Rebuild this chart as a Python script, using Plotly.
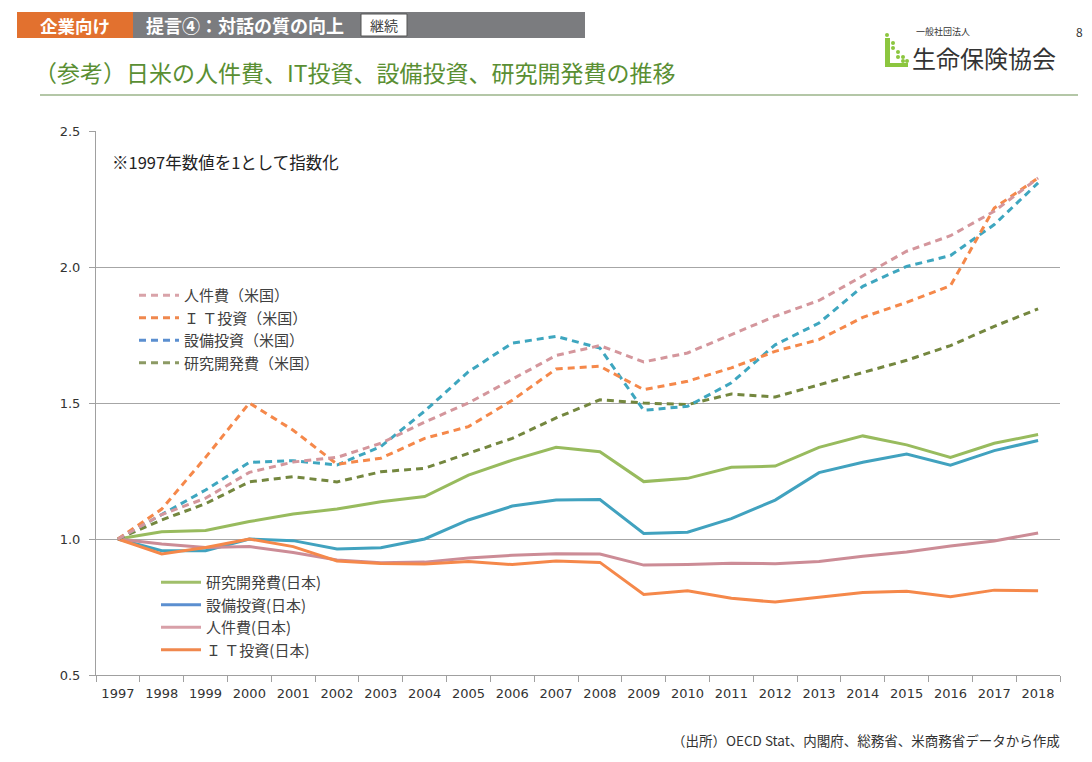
import plotly.graph_objects as go

# Years (category axis)
years = [str(y) for y in range(1997, 2019)]

# US series (index, 1997 = 1)
us_labor = [1.00, 1.09, 1.15, 1.245, 1.283, 1.30, 1.352, 1.43, 1.50, 1.586, 1.675, 1.711,
            1.651, 1.684, 1.751, 1.819, 1.877, 1.966, 2.058, 2.115, 2.205, 2.327]
us_it = [1.00, 1.11, 1.30, 1.50, 1.40, 1.275, 1.297, 1.37, 1.413, 1.51, 1.625, 1.635,
         1.549, 1.580, 1.629, 1.690, 1.733, 1.815, 1.870, 1.931, 2.217, 2.327]
us_capex = [1.00, 1.09, 1.18, 1.282, 1.288, 1.272, 1.34, 1.47, 1.615, 1.72, 1.745, 1.702,
            1.473, 1.488, 1.574, 1.714, 1.794, 1.929, 2.002, 2.042, 2.156, 2.309]
us_rd = [1.00, 1.07, 1.13, 1.21, 1.229, 1.21, 1.247, 1.26, 1.315, 1.37, 1.445, 1.512,
         1.50, 1.494, 1.533, 1.522, 1.567, 1.613, 1.657, 1.711, 1.782, 1.846]

# Japan series
jp_rd = [1.00, 1.027, 1.031, 1.064, 1.092, 1.11, 1.137, 1.156, 1.235, 1.29, 1.337, 1.321,
         1.211, 1.223, 1.264, 1.268, 1.337, 1.379, 1.346, 1.30, 1.352, 1.384]
jp_capex = [1.00, 0.957, 0.957, 1.00, 0.994, 0.963, 0.968, 1.00, 1.07, 1.121, 1.143, 1.145,
            1.02, 1.025, 1.075, 1.143, 1.244, 1.282, 1.312, 1.271, 1.325, 1.362]
jp_labor = [1.00, 0.982, 0.969, 0.972, 0.95, 0.923, 0.913, 0.915, 0.93, 0.94, 0.946, 0.945,
            0.904, 0.906, 0.911, 0.909, 0.917, 0.937, 0.952, 0.974, 0.993, 1.022]
jp_it = [1.00, 0.945, 0.969, 1.00, 0.972, 0.919, 0.91, 0.908, 0.917, 0.906, 0.919, 0.914,
         0.796, 0.81, 0.782, 0.768, 0.786, 0.803, 0.808, 0.788, 0.812, 0.81]

# name, values, line colour, legend swatch colour
us_series = [
    ("人件費（米国）", us_labor, "#d4969c", "#d9a3a9"),
    ("Ｉ Ｔ投資（米国）", us_it, "#f5884a", "#f0884e"),
    ("設備投資（米国）", us_capex, "#3ea6bf", "#5b8fd0"),
    ("研究開発費（米国）", us_rd, "#74873f", "#8c9a64"),
]
jp_series = [
    ("研究開発費(日本)", jp_rd, "#98bb5e", "#a0bf6a"),
    ("設備投資(日本)", jp_capex, "#41a2bf", "#5b8fd0"),
    ("人件費(日本)", jp_labor, "#cc8c96", "#d8a0a8"),
    ("Ｉ Ｔ投資(日本)", jp_it, "#f5884a", "#f0884e"),
]

FONT = "Noto Sans CJK JP"
NUMFONT = "DejaVu Sans, Noto Sans CJK JP"
OFF = 8  # page body margin
W, H = 1092 - OFF, 762 - OFF
L, R, T, B = 96 - OFF, 1060 - OFF, 131 - OFF, 675 - OFF


def px(x):
    # screen pixel -> paper
    return (x - OFF - L) / (R - L)


def py(y):
    return (B - (y - OFF)) / (B - T)


fig = go.Figure()

# Japan solid lines first, US dashed on top
for name, vals, col, _ in jp_series:
    fig.add_trace(go.Scatter(x=years, y=vals, mode="lines", name=name, showlegend=False,
                             line=dict(color=col, width=3)))
for name, vals, col, _ in reversed(us_series):
    fig.add_trace(go.Scatter(x=years, y=vals, mode="lines", name=name, showlegend=False,
                             line=dict(color=col, width=3, dash="7px,5px")))

# legend entries (swatch colours differ slightly from the lines)
for name, _, _, lcol in us_series:
    fig.add_trace(go.Scatter(x=[None], y=[None], mode="lines", name=name, legend="legend",
                             line=dict(color=lcol, width=3, dash="7px,5px")))
for name, _, _, lcol in jp_series:
    fig.add_trace(go.Scatter(x=[None], y=[None], mode="lines", name=name, legend="legend2",
                             line=dict(color=lcol, width=3)))

shapes = [
    # header bars
    dict(type="rect", xref="paper", yref="paper", x0=px(17), x1=px(133), y0=py(38), y1=py(12),
         fillcolor="#e2712f", line=dict(width=0), layer="above"),
    dict(type="rect", xref="paper", yref="paper", x0=px(133), x1=px(585), y0=py(38), y1=py(12),
         fillcolor="#7b7c7f", line=dict(width=0), layer="above"),
    dict(type="rect", xref="paper", yref="paper", x0=px(361), x1=px(407), y0=py(36), y1=py(14),
         fillcolor="white", line=dict(color="#555", width=1), layer="above"),
    # title underline
    dict(type="line", xref="paper", yref="paper", x0=px(40), x1=px(1078), y0=py(95), y1=py(95),
         line=dict(color="#9bb58a", width=1.5)),
    # logo icon
    dict(type="rect", xref="paper", yref="paper", x0=px(885), x1=px(890), y0=py(67), y1=py(38),
         fillcolor="#8cc63f", line=dict(width=0)),
    dict(type="rect", xref="paper", yref="paper", x0=px(885), x1=px(908), y0=py(67), y1=py(63),
         fillcolor="#8cc63f", line=dict(width=0)),
]
for cx, cy in [(887, 35), (893, 43), (893, 48), (898, 52), (898, 57), (903, 57), (903, 61), (907, 61)]:
    shapes.append(dict(type="circle", xref="paper", yref="paper",
                       x0=px(cx - 2), x1=px(cx + 2), y0=py(cy + 2), y1=py(cy - 2),
                       fillcolor="#8cc63f", line=dict(width=0)))

annotations = [
    dict(text="<b>企業向け</b>", x=px(75), y=py(25), font=dict(size=17.5, color="white")),
    dict(text="<b>提言④：対話の質の向上</b>", x=px(144), y=py(25), xanchor="left",
         font=dict(size=18, color="white")),
    dict(text="継続", x=px(384), y=py(25), font=dict(size=14, color="#444")),
    dict(text="（参考）日米の人件費、IT投資、設備投資、研究開発費の推移", x=px(32), y=py(72),
         xanchor="left", font=dict(size=23, color="#5a8f33")),
    dict(text="一般社団法人", x=px(914), y=py(31), xanchor="left", font=dict(size=9, color="#333")),
    dict(text="生命保険協会", x=px(910), y=py(57), xanchor="left", font=dict(size=24, color="#333")),
    dict(text="8", x=px(1079), y=py(31), font=dict(size=12, color="#333")),
    dict(text="※1997年数値を1として指数化", x=px(110), y=py(162), xanchor="left",
         font=dict(size=16.5, color="#222")),
    dict(text="（出所）OECD Stat、内閣府、総務省、米商務省データから作成", x=px(1062), y=py(740),
         xanchor="right", font=dict(size=13.5, color="#333")),
]
for a in annotations:
    a.update(xref="paper", yref="paper", showarrow=False, yanchor="middle")
    a.setdefault("xanchor", "center")

fig.update_layout(
    width=W, height=H,
    margin=dict(l=L, r=W - R, t=T, b=H - B),
    paper_bgcolor="white", plot_bgcolor="white",
    font=dict(family=FONT, size=13, color="#333"),
    shapes=shapes, annotations=annotations,
    legend=dict(x=px(134), y=py(279), xanchor="left", yanchor="top", bgcolor="rgba(0,0,0,0)",
                font=dict(size=15, color="#404040"), tracegroupgap=0, itemwidth=40),
    legend2=dict(x=px(156), y=py(566), xanchor="left", yanchor="top", bgcolor="rgba(0,0,0,0)",
                 font=dict(size=15, color="#404040"), tracegroupgap=0, itemwidth=40),
)
fig.update_xaxes(type="category", categoryorder="array", categoryarray=years,
                 range=[-0.5, len(years) - 0.5],
                 tickson="boundaries", ticks="outside", ticklen=6, tickcolor="#a0a0a0",
                 ticklabelstandoff=6,
                 showline=True, linecolor="#a0a0a0", linewidth=1, showgrid=False,
                 tickfont=dict(family=NUMFONT, size=13, color="#333"))
fig.update_yaxes(range=[0.5, 2.5], dtick=0.5, tickformat=".1f", ticks="outside", ticklen=6,
                 tickcolor="#a0a0a0", ticklabelstandoff=6,
                 showline=True, linecolor="#a0a0a0", linewidth=1,
                 showgrid=True, gridcolor="#a6a6a6", gridwidth=1, zeroline=False,
                 tickfont=dict(family=NUMFONT, size=13, color="#333"))

fig.write_html("out.html")
